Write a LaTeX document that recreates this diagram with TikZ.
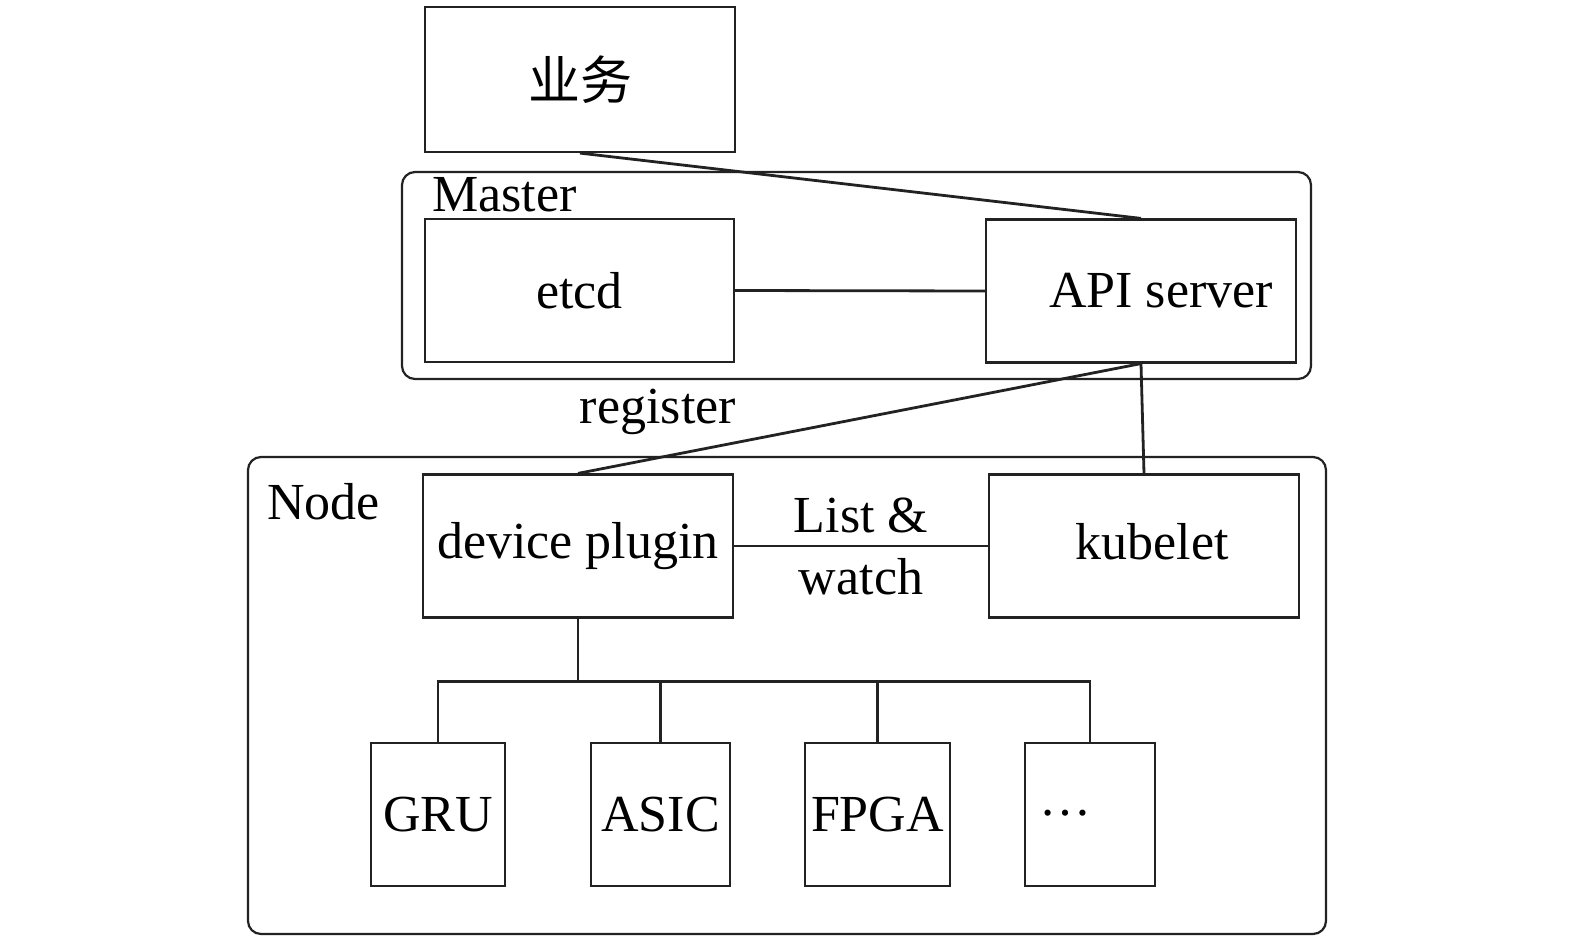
\documentclass[tikz,border=0pt]{standalone}
\usepackage{fontspec}
\setmainfont{Liberation Serif}
\newfontfamily\cjk{Noto Sans CJK SC}
\usetikzlibrary{positioning,calc}
\definecolor{lnGray}{RGB}{34,34,34}

\begin{document}
\begin{tikzpicture}[x=1pt,y=-1pt,
      font=\fontsize{52}{62}\selectfont,
      bx/.style={draw=lnGray,line width=2.2pt,minimum height=143pt,inner sep=0pt},
      grp/.style={draw=lnGray,line width=2.2pt,rounded corners=13pt,inner sep=0pt},
      lbl/.style={inner sep=2pt,align=center},
      ln/.style={draw=lnGray,line width=2.8pt}]
    \useasboundingbox (0,0) rectangle (1575,939);
    % groups
    \node[grp,minimum width=909pt,minimum height=207pt] (master) at (856.5,275.5) {};
    \node[grp,minimum width=1078pt,minimum height=477pt] (nodegrp) at (787,695.5) {};
    \node[lbl,anchor=base west,inner sep=0pt] (masterlbl) at ($(master.north west)+(31,41)$) {Master};
    \node[lbl,anchor=base west,inner sep=0pt] (nodelbl) at ($(nodegrp.north west)+(20,64)$) {Node};
    % boxes
    \node[bx,minimum width=310pt,minimum height=145pt] (biz) at (580,79.5) {\cjk 业务};
    \node[bx,minimum width=309pt] (etcd) at (579.5,290.5) {etcd};
    \node[bx,minimum width=310pt,label={[lbl,xshift=20pt]center:API server}] (api) at (1141,291) {};
    \node[bx,minimum width=310pt] (dp) at (578,546) {device plugin};
    \node[bx,minimum width=310pt,label={[lbl,xshift=8pt,yshift=4pt]center:kubelet}] (kub) at (1144,546) {};
    \node[bx,minimum width=134pt] (gru) at (438,814.5) {GRU};
    \node[bx,minimum width=139pt] (asic) at (660.5,814.5) {ASIC};
    \node[bx,minimum width=145pt] (fpga) at (877.5,814.5) {FPGA};
    \node[bx,minimum width=130pt,label={[lbl,xshift=-25pt,yshift=-6pt]center:\raisebox{0.3em}{…}}] (more) at (1090,814.5) {};
    % links
    \draw[ln] (biz.south) -- (api.north);
    \draw[ln] (etcd.east) -- (api.west);
    \draw[ln] (dp.north) -- node[lbl,pos=0.142,above=20pt] {register} (api.south);
    \draw[ln] (api.south) -- (kub.north);
    \draw[ln] (dp.east) -- node[lbl] {List \&\\watch} (kub.west);
    \coordinate (bus) at ($(dp.south)+(0,63)$);
    \draw[ln] (dp.south) -- (bus);
    \draw[ln] (gru.north) |- (bus) -| (more.north);
    \draw[ln] (asic.north) -- (asic.north |- bus);
    \draw[ln] (fpga.north) -- (fpga.north |- bus);
  \end{tikzpicture}
\end{document}
